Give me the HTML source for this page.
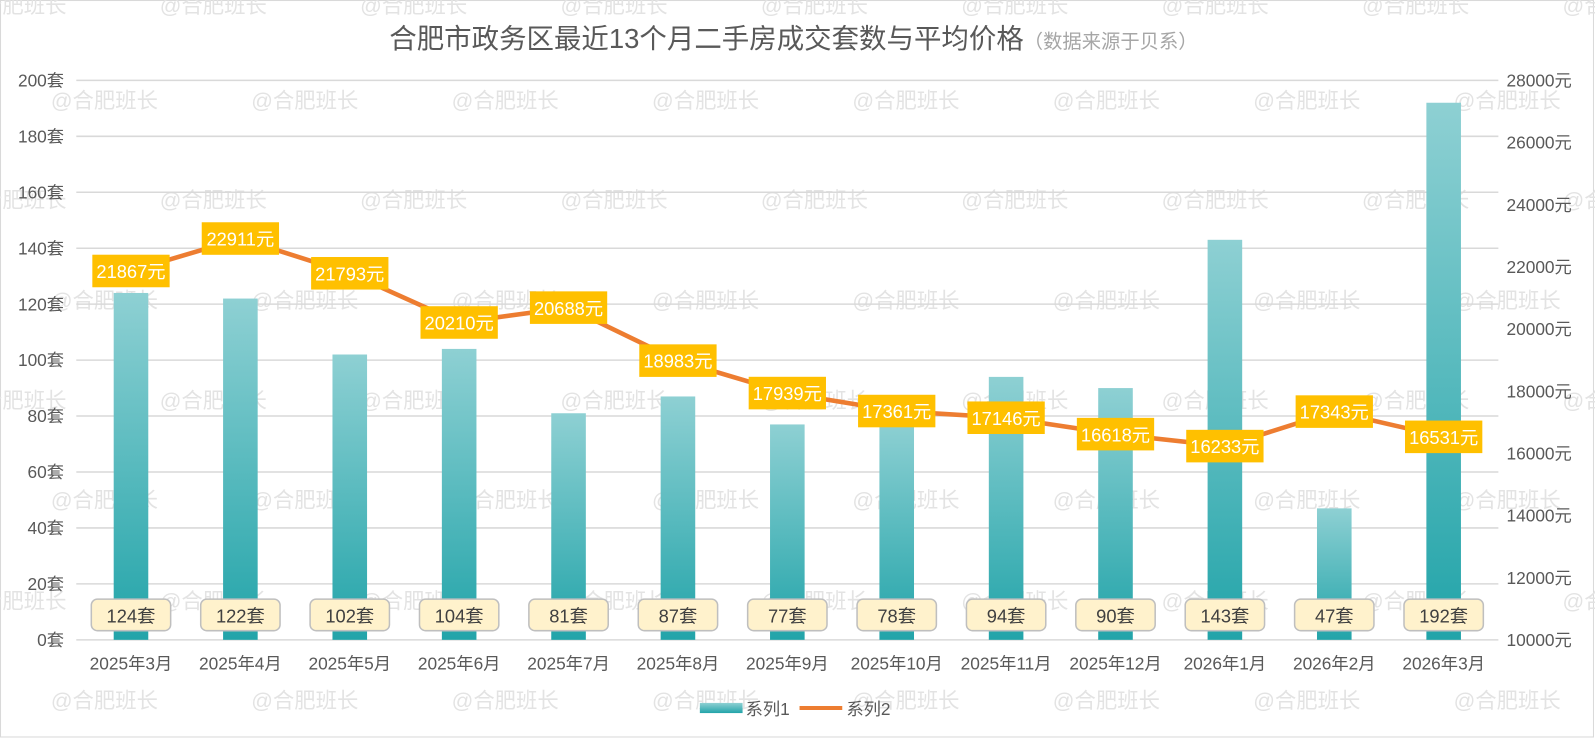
<!DOCTYPE html>
<html><head><meta charset="utf-8"><style>
html,body{margin:0;padding:0;background:#fff;}
svg{display:block;font-family:"Liberation Sans","Noto Sans CJK SC",sans-serif;}
</style></head><body>
<svg id="c" width="1595" height="738" viewBox="0 0 1568 725.5" preserveAspectRatio="none">
<defs>
<linearGradient id="bg" x1="0" y1="0" x2="0" y2="1">
<stop offset="0" stop-color="#8ed0d3"/><stop offset="1" stop-color="#22a4a9"/></linearGradient>
</defs>
<rect x="0.5" y="0.5" width="1566" height="724" fill="#fff" stroke="#d9d9d9"/>
<g id="wm"></g>
<g id="grid"></g>
<g id="bars"></g>
<g id="line"></g>
<g id="labels"></g>
<text x="780" y="47" font-size="27" fill="#595959" text-anchor="middle">合肥市政务区最近13个月二手房成交套数与平均价格<tspan font-size="19" fill="#a6a6a6">（数据来源于贝系）</tspan></text>
<g>
<rect x="688" y="691" width="42" height="10" fill="url(#bg)"/>
<text x="733" y="703" font-size="17" fill="#595959">系列1</text>
<line x1="786" y1="696" x2="828" y2="696" stroke="#ed7d31" stroke-width="4"/>
<text x="832" y="703" font-size="17" fill="#595959">系列2</text>
</g>
</svg>
<script>
const categories=["2025年3月","2025年4月","2025年5月","2025年6月","2025年7月","2025年8月","2025年9月","2025年10月","2025年11月","2025年12月","2026年1月","2026年2月","2026年3月"];
const counts=[124,122,102,104,81,87,77,78,94,90,143,47,192];
const prices=[21867,22911,21793,20210,20688,18983,17939,17361,17146,16618,16233,17343,16531];
const leftTicks=[0,20,40,60,80,100,120,140,160,180,200];
const rightTicks=[10000,12000,14000,16000,18000,20000,22000,24000,26000,28000];
const NS="http://www.w3.org/2000/svg";
const X0=75,X1=1473,Y0=629,Y1=79;
const step=(X1-X0)/categories.length;
const xc=i=>X0+step*(i+0.5);
const yL=v=>Y0-(v-0)/(200-0)*(Y0-Y1);
const yR=v=>Y0-(v-10000)/(28000-10000)*(Y0-Y1);
function mk(tag,attrs,parent,txt){const e=document.createElementNS(NS,tag);for(const k in attrs)e.setAttribute(k,attrs[k]);if(txt!==undefined)e.textContent=txt;parent.appendChild(e);return e;}
const wm=document.getElementById('wm'),grid=document.getElementById('grid'),bars=document.getElementById('bars'),line=document.getElementById('line'),labels=document.getElementById('labels');
const wmRows=[13,106,204,303,401,499,598,696];
wmRows.forEach((y,r)=>{for(let k=-1;k<9;k++){const x=(r%2?50:-40)+k*197;const t=mk('text',{x:x,y:y,'font-size':21,fill:'#e3e3e3'},wm,'@合肥班长');

}});
leftTicks.forEach(v=>{const y=yL(v);const l=mk('line',{x1:X0,x2:X1,y1:y,y2:y,stroke:'#d9d9d9','stroke-width':1.5},grid);


const t=mk('text',{x:63,y:y+6,'font-size':17,fill:'#595959','text-anchor':'end'},grid,v+'套');

});
rightTicks.forEach(v=>{const y=yR(v);const t=mk('text',{x:1481,y:y+6,'font-size':17,fill:'#595959'},grid,v+'元');

});
categories.forEach((c,i)=>{const t=mk('text',{x:xc(i),y:658,'font-size':17,fill:'#595959','text-anchor':'middle'},grid,c);

});
counts.forEach((v,i)=>{const y=yL(v);const b=mk('rect',{x:xc(i)-17,y:y,width:34,height:Y0-y,fill:'url(#bg)'},bars);


const g=mk('g',{},labels);


mk('rect',{x:xc(i)-39,y:589,width:78,height:31,rx:6,fill:'#fff2cc',stroke:'#bfbfbf','stroke-width':1.5},g);
mk('text',{x:xc(i),y:612,'font-size':18,fill:'#404040','text-anchor':'middle'},g,v+'套');});
const pts=prices.map((v,i)=>xc(i)+','+yR(v)).join(' ');
const pl=mk('polyline',{points:pts,fill:'none',stroke:'#ed7d31','stroke-width':4.5,'stroke-linejoin':'round'},line);


prices.forEach((v,i)=>{const y=yR(v);const g=mk('g',{},labels);


mk('rect',{x:xc(i)-38,y:y-16,width:76,height:32,fill:'#ffc000'},g);
mk('text',{x:xc(i),y:y+7,'font-size':18,fill:'#fff','text-anchor':'middle'},g,v+'元');});
</script>
</body></html>
